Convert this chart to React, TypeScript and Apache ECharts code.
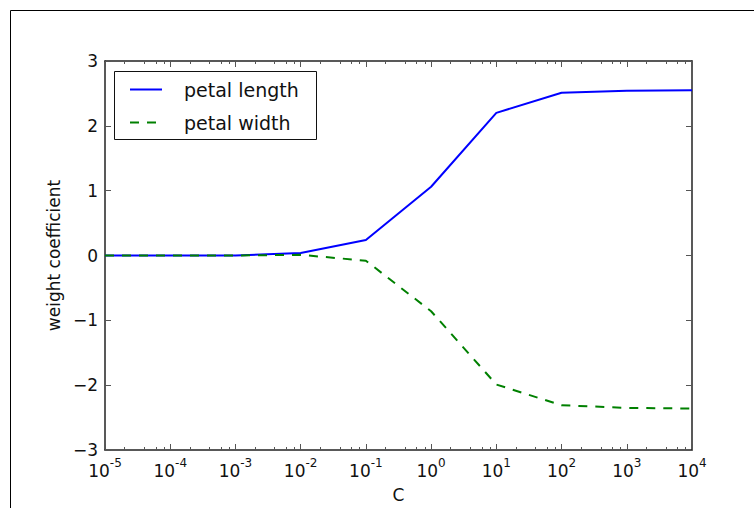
import React, { useEffect, useRef } from "react";
import * as echarts from "echarts";

const C_VALUES = [1e-5, 1e-4, 1e-3, 1e-2, 1e-1, 1e0, 1e1, 1e2, 1e3, 1e4];
const PETAL_LENGTH = [0.0, 0.0, 0.0, 0.04, 0.24, 1.06, 2.2, 2.51, 2.54, 2.55];
const PETAL_WIDTH = [0.0, 0.0, 0.0, 0.01, -0.08, -0.86, -1.99, -2.31, -2.35, -2.36];
const SERIES_NAMES = ["petal length", "petal width"];
const Y_TICKS = [-3, -2, -1, 0, 1, 2, 3];
const MINOR_SUBS = [2, 4, 6, 8];
const X_MIN_EXP = -5;
const X_MAX_EXP = 4;

const FONT = "DejaVu Sans";

export default function App() {
  const ref = useRef<HTMLDivElement>(null);

  useEffect(() => {
    if (!ref.current) return;
    const chart = echarts.init(ref.current, undefined, { renderer: "svg" });

    // minor tick positions expressed as exponents (for a linear helper axis aligned with the log axis)
    const minorExps: number[] = [];
    for (let e = X_MIN_EXP; e < X_MAX_EXP; e++) {
      for (const s of MINOR_SUBS) minorExps.push(e + Math.log10(s));
    }
    const xMin = Math.pow(10, X_MIN_EXP);
    const xMax = Math.pow(10, X_MAX_EXP);

    const axisLineStyle = { color: "#222", width: 1.5 };
    const tickStyle = { color: "#555", width: 1 };

    const logX = (position: string) => ({
      type: "log" as const,
      logBase: 10,
      min: xMin,
      max: xMax,
      position,
      gridIndex: 0,
      splitLine: { show: false },
    });
    const minorX = (position: string) => ({
      type: "value" as const,
      min: X_MIN_EXP,
      max: X_MAX_EXP,
      position,
      gridIndex: 0,
      splitLine: { show: false },
      axisLine: { show: false, onZero: false },
      axisLabel: { show: false },
      axisTick: { show: true, inside: true, length: 3, lineStyle: tickStyle, customValues: minorExps },
    });

    const xAxes = [
      {
        ...logX("bottom"),
        name: "C",
        nameLocation: "middle",
        nameGap: 36,
        nameTextStyle: { fontFamily: FONT, fontSize: 17, color: "#111" },
        axisLine: { show: true, onZero: false, lineStyle: axisLineStyle },
        axisTick: { show: true, inside: true, length: 6, lineStyle: tickStyle },
        axisLabel: {
          show: true,
          margin: 7,
          fontFamily: FONT,
          color: "#111",
          showMinLabel: true,
          showMaxLabel: true,
          formatter: (v: number) => {
            const e = Math.round(Math.log10(v));
            return `{b|10}{s|${e}}`;
          },
          rich: {
            b: { fontFamily: FONT, fontSize: 17, color: "#111", lineHeight: 22, verticalAlign: "bottom" },
            s: { fontFamily: FONT, fontSize: 12, color: "#111", lineHeight: 22, verticalAlign: "top" },
          },
        },
      },
      minorX("bottom"),
      {
        ...logX("top"),
        axisLine: { show: true, onZero: false, lineStyle: axisLineStyle },
        axisLabel: { show: false },
        axisTick: { show: true, inside: true, length: 6, lineStyle: tickStyle },
      },
      minorX("top"),
    ];

    const yMin = Y_TICKS[0];
    const yMax = Y_TICKS[Y_TICKS.length - 1];
    const yAxes = [
      {
        type: "value",
        position: "left",
        min: yMin,
        max: yMax,
        interval: 1,
        name: "weight coefficient",
        nameLocation: "middle",
        nameGap: 38,
        nameRotate: 90,
        nameTextStyle: { fontFamily: FONT, fontSize: 17, color: "#111" },
        splitLine: { show: false },
        axisLine: { show: true, onZero: false, lineStyle: axisLineStyle },
        axisTick: { show: true, inside: true, length: 6, lineStyle: tickStyle },
        axisLabel: {
          margin: 7,
          fontFamily: FONT,
          fontSize: 17,
          color: "#111",
          formatter: (v: number) => (v < 0 ? "\u2212" + Math.abs(v) : String(v)),
        },
      },
      {
        type: "value",
        position: "right",
        min: yMin,
        max: yMax,
        interval: 1,
        splitLine: { show: false },
        axisLine: { show: true, onZero: false, lineStyle: axisLineStyle },
        axisTick: { show: true, inside: true, length: 6, lineStyle: tickStyle },
        axisLabel: { show: false },
      },
    ];

    chart.setOption({
      animation: false,
      backgroundColor: "#fff",
      grid: { left: 105, top: 61, right: 62, bottom: 56, containLabel: false },
      xAxis: xAxes,
      yAxis: yAxes,
      legend: {
        orient: "vertical",
        left: 129,
        top: 80,
        padding: 0,
        itemWidth: 32,
        itemHeight: 18,
        itemGap: 14,
        z: 20,
        itemStyle: { opacity: 0 },
        textStyle: { fontFamily: FONT, fontSize: 19, color: "#111", padding: [0, 0, 0, 17] },
        data: SERIES_NAMES,
      },
      graphic: [
        {
          type: "rect",
          shape: { x: 10.5, y: 10.5, width: 900, height: 700 },
          style: { fill: "none", stroke: "#000", lineWidth: 1 },
          silent: true,
          z: 0,
        },
        {
          type: "rect",
          shape: { x: 114.5, y: 71.5, width: 202, height: 68 },
          style: { fill: "#fff", stroke: "#111", lineWidth: 1 },
          silent: true,
          z: 4,
        },
      ],
      series: [
        {
          name: SERIES_NAMES[0],
          type: "line",
          data: C_VALUES.map((c, i) => [c, PETAL_LENGTH[i]]),
          symbol: "none",
          showSymbol: false,
          lineStyle: { color: "#0000ff", width: 2 },
          itemStyle: { color: "#0000ff" },
          z: 3,
        },
        {
          name: SERIES_NAMES[1],
          type: "line",
          data: C_VALUES.map((c, i) => [c, PETAL_WIDTH[i]]),
          symbol: "none",
          showSymbol: false,
          lineStyle: { color: "#008000", width: 2, type: [9, 8] },
          itemStyle: { color: "#008000" },
          z: 3,
        },
      ],
    });

    return () => chart.dispose();
  }, []);

  return (
    <div style={{ position: "absolute", left: 0, top: 0, width: 754, height: 508, background: "#fff" }}>
      <div ref={ref} style={{ width: 754, height: 508 }} />
    </div>
  );
}
